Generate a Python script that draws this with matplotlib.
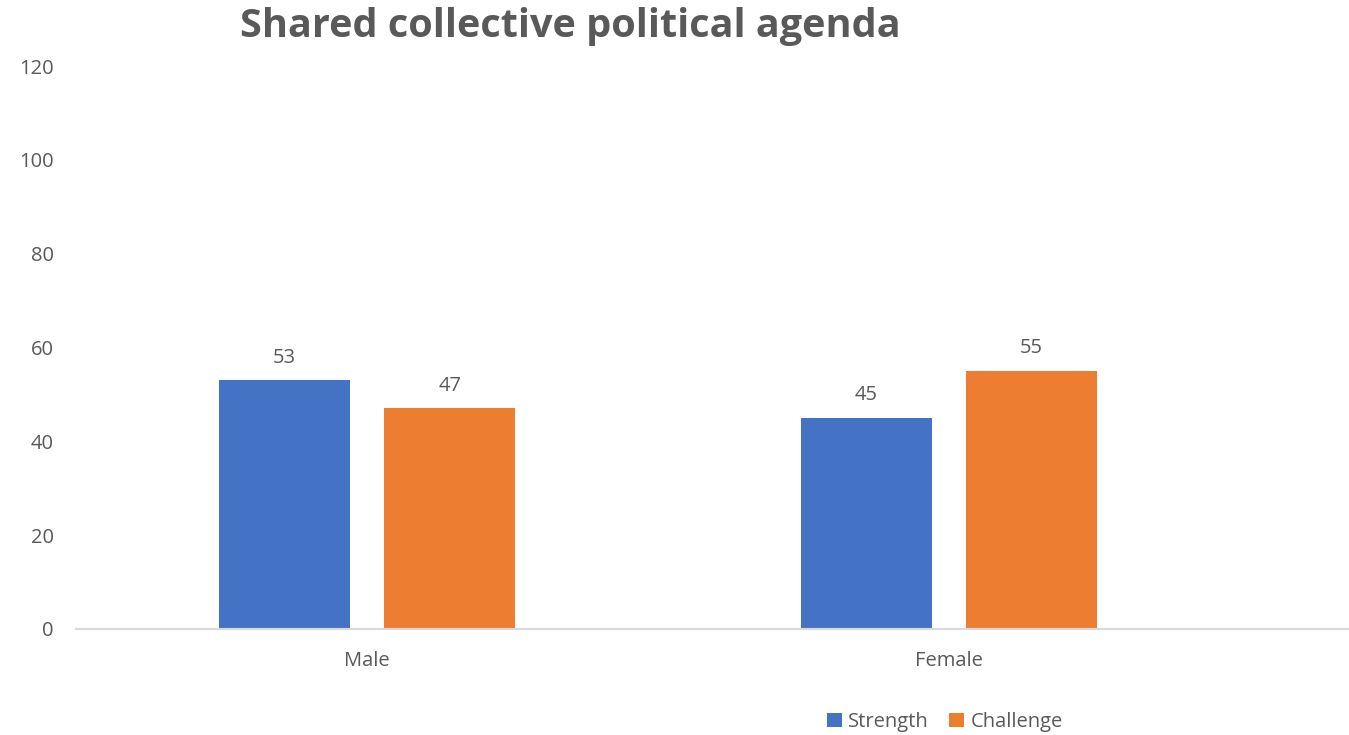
import numpy as np
import matplotlib.pyplot as plt

categories = ["Male", "Female"]
series_names = ["Strength", "Challenge"]
strength = [53, 45]
challenge = [47, 55]
y_ticks = [0, 20, 40, 60, 80, 100, 120]

colors = ["#4472C4", "#ED7D31"]
text_gray = "#595959"

plt.rcParams["font.family"] = ["Open Sans", "DejaVu Sans"]

fig = plt.figure(figsize=(13.49, 7.35), dpi=100)
ax = fig.add_axes([76 / 1349, 1 - 629 / 735, 1 - 76 / 1349, (629 - 66) / 735])

x = np.arange(len(categories))
width = 0.224
offset = 0.142

for vals, off, col, name in [(strength, -offset, colors[0], series_names[0]),
                             (challenge, offset, colors[1], series_names[1])]:
    bars = ax.bar(x + off, vals, width=width, color=col, label=name, zorder=2)
    for b, v in zip(bars, vals):
        ax.annotate(str(v), (b.get_x() + b.get_width() / 2, v),
                    xytext=(0, 9), textcoords="offset points",
                    ha="center", va="bottom", fontsize=14.5, color=text_gray)

ax.set_xlim(-0.5, -0.5 + (1349 - 76) / 582)
ax.set_ylim(0, 120)
ax.set_yticks(y_ticks)
ax.set_xticks(x)
ax.set_xticklabels(categories)

for s in ["top", "right", "left"]:
    ax.spines[s].set_visible(False)
ax.spines["bottom"].set_color("#D9D9D9")
ax.spines["bottom"].set_linewidth(1.5)
ax.tick_params(axis="both", length=0, labelsize=14.5, labelcolor=text_gray)
ax.tick_params(axis="x", pad=16)
ax.tick_params(axis="y", pad=16)

fig.text(570 / 1349, 1 - 26 / 735, "Shared collective political agenda",
         ha="center", va="center", fontsize=28.5, fontweight="bold", color=text_gray)

fig.legend(loc="center", bbox_to_anchor=(945 / 1349, 1 - 722 / 735), ncol=2,
           frameon=False, fontsize=14.5, labelcolor=text_gray,
           handlelength=0.75, handleheight=0.75, handletextpad=0.3, columnspacing=1.0)

fig.savefig("out.png", dpi=100)
